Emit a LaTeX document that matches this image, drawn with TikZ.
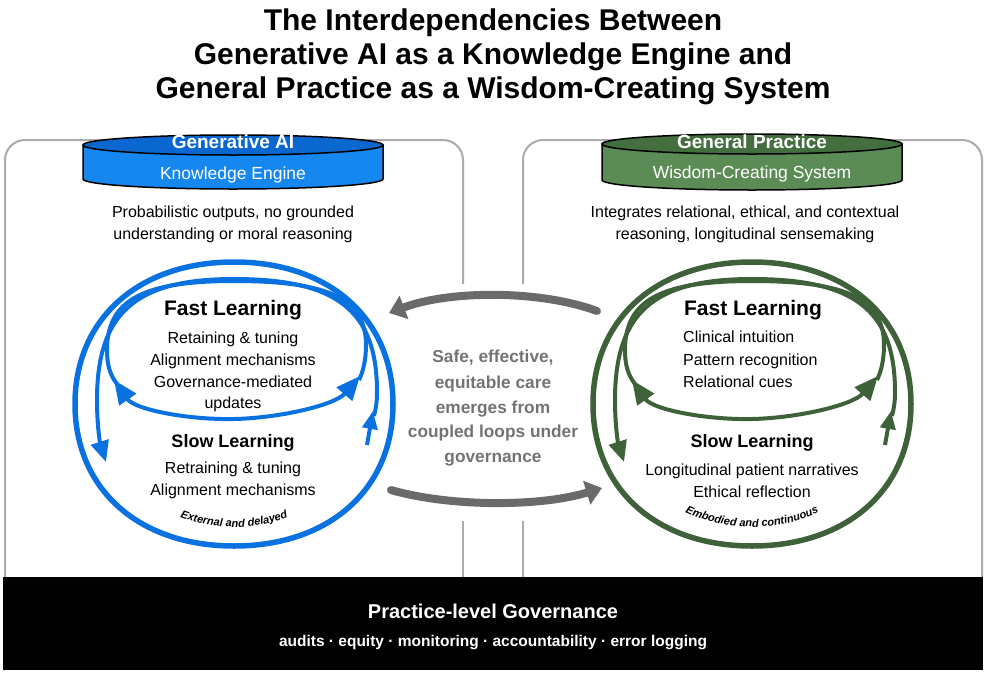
\documentclass[tikz,border=0pt]{standalone}
\usepackage{fontspec}
\setmainfont{Liberation Sans}
\usetikzlibrary{arrows.meta,decorations.text}
\definecolor{aiblue}{HTML}{0A72E0}
\definecolor{aitop}{HTML}{0A67CF}
\definecolor{aibody}{HTML}{1787F0}
\definecolor{gpgreen}{HTML}{3E613A}
\definecolor{gptop}{HTML}{436E3E}
\definecolor{gpbody}{HTML}{5C8C55}
\definecolor{panelgray}{HTML}{ABABAB}
\definecolor{midgray}{HTML}{6A6A6A}
\definecolor{midtext}{HTML}{737373}
\newcommand{\fs}[1]{\fontsize{#1}{#1}\selectfont}
\newcommand{\drawloops}[3]{%
\begin{scope}[xshift=#1pt]
 % outer loop
 \draw[line width=5.5, #2] (75,404) .. controls (75,318.8) and (138.6,262) .. (234,262) .. controls (329.4,262) and (393,318.8) .. (393,404) .. controls (393,489.2) and (329.4,546) .. (234,546) .. controls (138.6,546) and (75,489.2) .. (75,404) -- cycle;
 % long loop
 \draw[#2, line width=4, -{Triangle[length=21pt,width=18pt]}] (374,416) .. controls (376,408) and (377,402) .. (377,392) .. controls (377,310.6) and (337,279) .. (234,279) .. controls (135.4,279) and (97,313) .. (97,400) .. controls (97,425) and (100,443) .. (106,462);
 \draw[#2, line width=4, -{Triangle[length=18pt,width=15pt]}] (367,445) -- (373,411);
 % fast loop upper
 \draw[#2, line width=4] (117,384) .. controls (110,375) and (107,365) .. (107,350) .. controls (107,300.3) and (142.6,281) .. (234,281) .. controls (329,281) and (366,299) .. (366,345) .. controls (366,360) and (363,372) .. (359,380);
 % fast loop lower (two-headed)
 \draw[#2, line width=4, {Triangle[length=24pt,width=20pt]}-{Triangle[length=24pt,width=20pt]}] (114,380) .. controls (135,410) and (190,420) .. (234,419) .. controls (280,418) and (335,405) .. (360,376);
 \path[decorate, decoration={text along path, text={|\bfseries\itshape\fs{11}|#3}, text align=center}] (126.8,483.1) arc[start angle=140, end angle=40, x radius=140, y radius=123];
\end{scope}}
\tikzset{
 base/.style={inner sep=0pt, anchor=base},
 ttl/.style={base, font=\bfseries\fs{30}},
 body/.style={base, font=\fs{16}},
 fastl/.style={base, font=\bfseries\fs{21}},
 slowl/.style={base, font=\bfseries\fs{18}},
 cylt/.style={base, text=white, font=\bfseries\fs{19}},
 cyls/.style={base, text=white, font=\fs{17.5}},
 midt/.style={base, text=midtext, font=\bfseries\fs{17.3}},
 panel/.style={draw=panelgray, line width=2},
 midarrow/.style={draw=midgray, line width=8, line cap=round, -{Triangle[length=16pt,width=24pt]}},
}
\begin{document}
\begin{tikzpicture}[x=1pt,y=-1pt]
\useasboundingbox (0,0) rectangle (986,675);
% title
\node[ttl] (t1) at (493,30) {The Interdependencies Between};
\node[ttl] (t2) at (493,64) {Generative AI as a Knowledge Engine and};
\node[ttl] (t3) at (493,98) {General Practice as a Wisdom-Creating System};
% panels
\draw[panel, rounded corners=20pt] (5,578) -- (5,140) -- (463,140) -- (463,284);
\draw[panel] (463,521) -- (463,578);
\draw[panel, rounded corners=20pt] (523,284) -- (523,140) -- (982,140) -- (982,578);
\draw[panel] (523,521) -- (523,578);
% blue cylinder
\filldraw[fill=aibody, draw=black, line width=1.5] (83,145) -- (83,179) arc[start angle=180, end angle=0, x radius=150, y radius=10] -- (383,145) -- cycle;
\filldraw[fill=aitop, draw=black, line width=1.5] (233,145) ellipse[x radius=150, y radius=10];
\node[cylt] (ai) at (233,148) {Generative AI};
\node[cyls] (ke) at (233,179) {Knowledge Engine};
% green cylinder
\filldraw[fill=gpbody, draw=black, line width=1.5] (602,144) -- (602,180) arc[start angle=180, end angle=0, x radius=150, y radius=10] -- (902,144) -- cycle;
\filldraw[fill=gptop, draw=black, line width=1.5] (752,144) ellipse[x radius=150, y radius=10];
\node[cylt] (gp) at (752,148) {General Practice};
\node[cyls] (wc) at (752,178) {Wisdom-Creating System};
% descriptions
\node[body] (d1) at (233,217) {Probabilistic outputs, no grounded};
\node[body] (d2) at (233,239) {understanding or moral reasoning};
\node[body] (d3) at (745,217) {Integrates relational, ethical, and contextual};
\node[body] (d4) at (745,239) {reasoning, longitudinal sensemaking};
% loops
\drawloops{0}{aiblue}{External and delayed}
\drawloops{518}{gpgreen}{Embodied and continuous}
% blue loop texts
\node[fastl] (af) at (233,315) {Fast Learning};
\node[body] (a1) at (233,343) {Retaining \& tuning};
\node[body] (a2) at (233,365) {Alignment mechanisms};
\node[body] (a3) at (233,387) {Governance-mediated};
\node[body] (a4) at (233,408) {updates};
\node[slowl] (as) at (233,447) {Slow Learning};
\node[body] (a5) at (233,473) {Retraining \& tuning};
\node[body] (a6) at (233,495) {Alignment mechanisms};
% green loop texts
\node[fastl] (gf) at (753,315) {Fast Learning};
\node[body, anchor=base west] (g1) at (683,342) {Clinical intuition};
\node[body, anchor=base west] (g2) at (683,365) {Pattern recognition};
\node[body, anchor=base west] (g3) at (683,387) {Relational cues};
\node[slowl] (gs) at (752,447) {Slow Learning};
\node[body] (g4) at (752,475) {Longitudinal patient narratives};
\node[body] (g5) at (752,497) {Ethical reflection};
% middle
\coordinate (ma1) at (597,311);
\coordinate (ma2) at (389,313);
\coordinate (mb1) at (391,490);
\coordinate (mb2) at (602,488);
\draw[midarrow] (ma1) .. controls (540,290) and (450,290) .. (ma2);
\draw[midarrow] (mb1) .. controls (450,507) and (540,507) .. (mb2);
\node[midt] (m1) at (493,362) {Safe, effective,};
\node[midt] (m2) at (493,388) {equitable care};
\node[midt] (m3) at (493,413) {emerges from};
\node[midt] (m4) at (493,437) {coupled loops under};
\node[midt] (m5) at (493,462) {governance};
% governance bar
\fill[black] (3,577) rectangle (983,670);
\node[base, text=white, font=\bfseries\fs{20}] (pg) at (493,618) {Practice-level Governance};
\node[base, text=white, font=\bfseries\fs{15.5}] (pl) at (493,646) {audits · equity · monitoring · accountability · error logging};
\end{tikzpicture}
\end{document}
